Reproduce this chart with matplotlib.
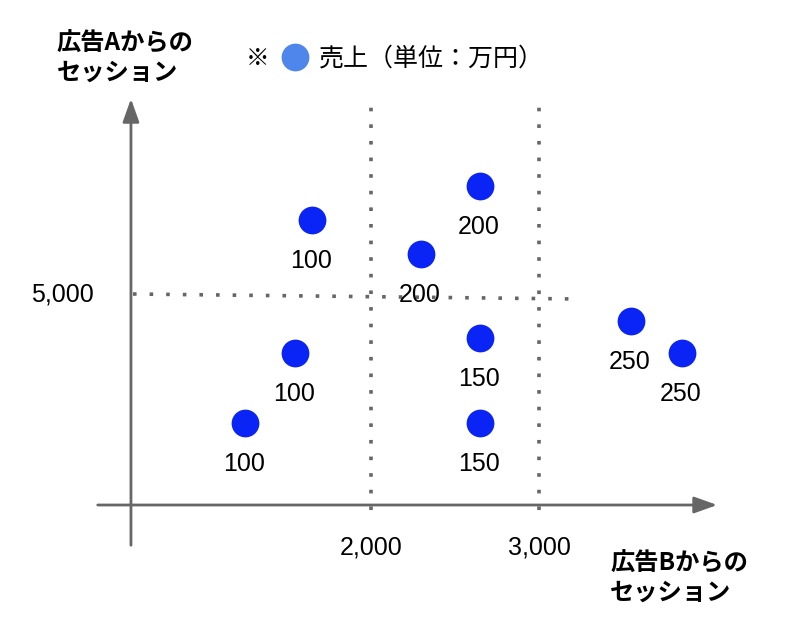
import matplotlib
matplotlib.use("Agg")
import matplotlib.pyplot as plt

plt.rcParams['font.family'] = ['Noto Sans CJK JP', 'DejaVu Sans']

# 広告Bからのセッション (x), 広告Aからのセッション (y), 売上 (万円)
sess_b = [1650, 2300, 2650, 1550, 1250, 2650, 2650, 3550, 3850]
sess_a = [6750, 5950, 7550, 3600, 1950, 3950, 1950, 4350, 3600]
sales = [100, 200, 200, 100, 100, 150, 150, 250, 250]

x_ticks = [2000, 3000]
x_tick_labels = ['2,000', '3,000']
y_tick = 5000
y_tick_label = '5,000'

axis_gray = '#666666'
dot_blue = '#0a24f5'
num_font = ['Liberation Sans', 'DejaVu Sans']

fig = plt.figure(figsize=(7.86, 6.4), dpi=100)
ax = fig.add_axes([0, 0, 1, 1])
# pixel-ish mapping: x px = 35 + 0.168*x, y px = 505 - 0.0422*y
ax.set_xlim(-208, 4470)
ax.set_ylim(-3199, 11967)
ax.axis('off')

def px_x(px):
    return (px - 35) / 0.168

def px_y(py):
    return (505 - py) / 0.0422

# axes with arrows
ax.annotate('', xy=(px_x(720), 0), xytext=(px_x(95), 0),
            arrowprops=dict(arrowstyle='-|>,head_length=1.4,head_width=0.5',
                            color=axis_gray, lw=2))
ax.annotate('', xy=(px_x(131), px_y(96)), xytext=(px_x(131), px_y(548)),
            arrowprops=dict(arrowstyle='-|>,head_length=1.4,head_width=0.5',
                            color=axis_gray, lw=2))

# dotted guide lines
for xv in x_ticks:
    ax.plot([xv, xv], [px_y(510), px_y(106)], color=axis_gray, lw=2.6,
            linestyle=(0, (1, 3.6)))
ax.plot([px_x(133), px_x(578)], [y_tick, px_y(299)], color=axis_gray, lw=2.6,
        linestyle=(0, (1, 3.6)))

# tick labels
for xv, lab in zip(x_ticks, x_tick_labels):
    ax.text(xv, px_y(547), lab, fontsize=18, ha='center', va='center',
            family=num_font)
ax.text(px_x(62), y_tick, y_tick_label, fontsize=18, ha='center', va='center',
        family=num_font)

# points and labels
ax.scatter(sess_b, sess_a, s=400, color=dot_blue, zorder=3, linewidths=0)
for xv, yv, v in zip(sess_b, sess_a, sales):
    ax.annotate(str(v), (xv, yv), xytext=(-1, -29.5), textcoords='offset points',
                ha='center', va='center', fontsize=18, family=num_font)

# axis titles
ax.text(px_x(57), px_y(58), '広告Aからの\nセッション', fontsize=17.5,
        fontweight='bold', ha='left', va='center', linespacing=1.25)
ax.text(px_x(610), px_y(578), '広告Bからの\nセッション', fontsize=17.5,
        fontweight='bold', ha='left', va='center', linespacing=1.25)

# legend note
ax.text(px_x(246), px_y(58), '※', fontsize=17, ha='left', va='center')
ax.scatter([px_x(295)], [px_y(57)], s=400, color='#4f86ec', linewidths=0)
ax.text(px_x(319), px_y(58), '売上（単位：万円）', fontsize=18, ha='left',
        va='center')

fig.savefig('out.png', dpi=100)
